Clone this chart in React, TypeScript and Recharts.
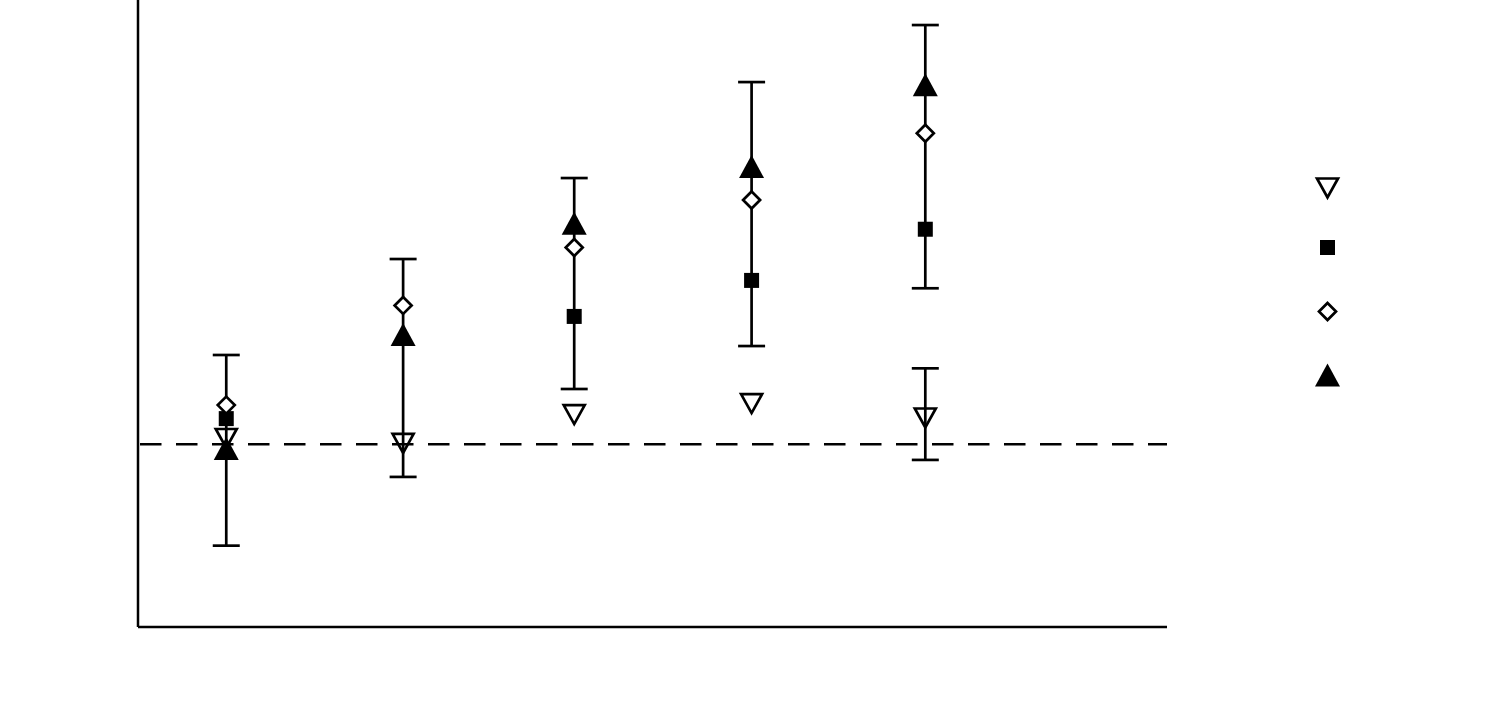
import React from "react";
import {
  ScatterChart,
  Scatter,
  XAxis,
  YAxis,
  ReferenceLine,
  ErrorBar,
  Legend,
} from "recharts";

// ---- data ----
const timepoints = [1, 2.012, 2.991, 4.006, 5];
const seriesNames = ["Control", "Dose A", "Dose B", "Dose C"];

const openDownValues: (number | null)[] = [1.034, 1.007, 1.165, 1.225, 1.146];
const openDownErrHigh: (number | null)[] = [null, null, null, null, 1.415];
const openDownErrLow: (number | null)[] = [null, null, null, null, 0.914];

const filledSquareValues: (number | null)[] = [1.14, null, 1.699, 1.896, 2.176];
const openDiamondValues: (number | null)[] = [1.214, 1.759, 2.076, 2.336, 2.701];

const filledUpValues: (number | null)[] = [0.974, 1.597, 2.206, 2.516, 2.963];
const filledUpErrHigh: (number | null)[] = [1.488, 2.013, 2.456, 2.981, 3.293];
const filledUpErrLow: (number | null)[] = [0.445, 0.821, 1.302, 1.537, 1.853];

const baseline = 1;
const yDomain: [number, number] = [0, 3.43];
const xDomain: [number, number] = [0.495, 6.383];

// ---- build tables ----
type Pt = { x: number; y: number; err?: [number, number] };

function buildSeries(
  values: (number | null)[],
  hi?: (number | null)[],
  lo?: (number | null)[]
): Pt[] {
  const out: Pt[] = [];
  values.forEach((v, i) => {
    if (v == null) return;
    const p: Pt = { x: timepoints[i], y: v };
    if (hi && lo && hi[i] != null && lo[i] != null) {
      p.err = [v - (lo[i] as number), (hi[i] as number) - v];
    }
    out.push(p);
  });
  return out;
}

const downData = buildSeries(openDownValues, openDownErrHigh, openDownErrLow);
const downPlain = downData.filter((p) => !p.err);
const downWithErr = downData.filter((p) => p.err);
const squareData = buildSeries(filledSquareValues);
const diamondData = buildSeries(openDiamondValues);
const upData = buildSeries(filledUpValues, filledUpErrHigh, filledUpErrLow);

// ---- marker shapes ----
const SW = 2.7;

const DownTri = (p: any) => {
  const { cx, cy } = p;
  if (cx == null || cy == null) return <g />;
  return (
    <path
      d={`M${cx - 10.5},${cy - 9} L${cx + 10.5},${cy - 9} L${cx},${cy + 10} Z`}
      fill="none"
      stroke="#000"
      strokeWidth={SW}
    />
  );
};

const UpTri = (p: any) => {
  const { cx, cy } = p;
  if (cx == null || cy == null) return <g />;
  return (
    <path
      d={`M${cx - 12.5},${cy + 11} L${cx + 12.5},${cy + 11} L${cx},${cy - 12} Z`}
      fill="#000"
    />
  );
};

const Square = (p: any) => {
  const { cx, cy } = p;
  if (cx == null || cy == null) return <g />;
  return <rect x={cx - 7.5} y={cy - 7.5} width={15} height={15} fill="#000" />;
};

const Diamond = (p: any) => {
  const { cx, cy } = p;
  if (cx == null || cy == null) return <g />;
  return (
    <path
      d={`M${cx},${cy - 8.5} L${cx + 8.5},${cy} L${cx},${cy + 8.5} L${cx - 8.5},${cy} Z`}
      fill="#fff"
      stroke="#000"
      strokeWidth={SW}
    />
  );
};

const legendShapes = [DownTri, Square, Diamond, UpTri];
const legendRowY = [17.5, 77.5, 141.5, 205.5];

const LegendContent = () => (
  <svg width={36} height={224} style={{ display: "block" }}>
    {seriesNames.map((name, i) => {
      const Shape = legendShapes[i];
      return (
        <g key={name}>
          <Shape cx={17.5} cy={legendRowY[i]} />
        </g>
      );
    })}
  </svg>
);

export default function App() {
  return (
    <div style={{ position: "absolute", left: 0, top: 0, width: 1485, height: 723, background: "#fff" }}>
      <ScatterChart
        width={1485}
        height={723}
        margin={{ top: 0, right: 318, bottom: 95, left: 137 }}
      >
        <XAxis
          type="number"
          dataKey="x"
          domain={xDomain}
          ticks={timepoints}
          tick={false}
          tickLine={false}
          height={1}
          axisLine={{ stroke: "#000", strokeWidth: 2.5 }}
          allowDataOverflow
        />
        <YAxis
          type="number"
          dataKey="y"
          domain={yDomain}
          tick={false}
          tickLine={false}
          width={1}
          axisLine={{ stroke: "#000", strokeWidth: 2.5 }}
          allowDataOverflow
        />
        <ReferenceLine
          y={baseline}
          stroke="#000"
          strokeWidth={2.6}
          strokeDasharray="21.5 14.5"
          strokeDashoffset={-2}
        />
        <Scatter
          name={seriesNames[0]}
          data={downPlain}
          shape={DownTri}
          isAnimationActive={false}
          legendType="none"
        />
        <Scatter
          name={seriesNames[0]}
          data={downWithErr}
          shape={DownTri}
          isAnimationActive={false}
        >
          <ErrorBar dataKey="err" direction="y" width={13.5} stroke="#000" strokeWidth={SW} />
        </Scatter>
        <Scatter
          name={seriesNames[3]}
          data={upData}
          shape={UpTri}
          isAnimationActive={false}
        >
          <ErrorBar dataKey="err" direction="y" width={13.5} stroke="#000" strokeWidth={SW} />
        </Scatter>
        <Scatter
          name={seriesNames[1]}
          data={squareData}
          shape={Square}
          isAnimationActive={false}
        />
        <Scatter
          name={seriesNames[2]}
          data={diamondData}
          shape={Diamond}
          isAnimationActive={false}
        />
        <Legend
          layout="vertical"
          align="center"
          verticalAlign="middle"
          content={LegendContent}
          wrapperStyle={{ position: "absolute", left: 1310, top: 170, width: 36, height: 224 }}
        />
      </ScatterChart>
    </div>
  );
}
